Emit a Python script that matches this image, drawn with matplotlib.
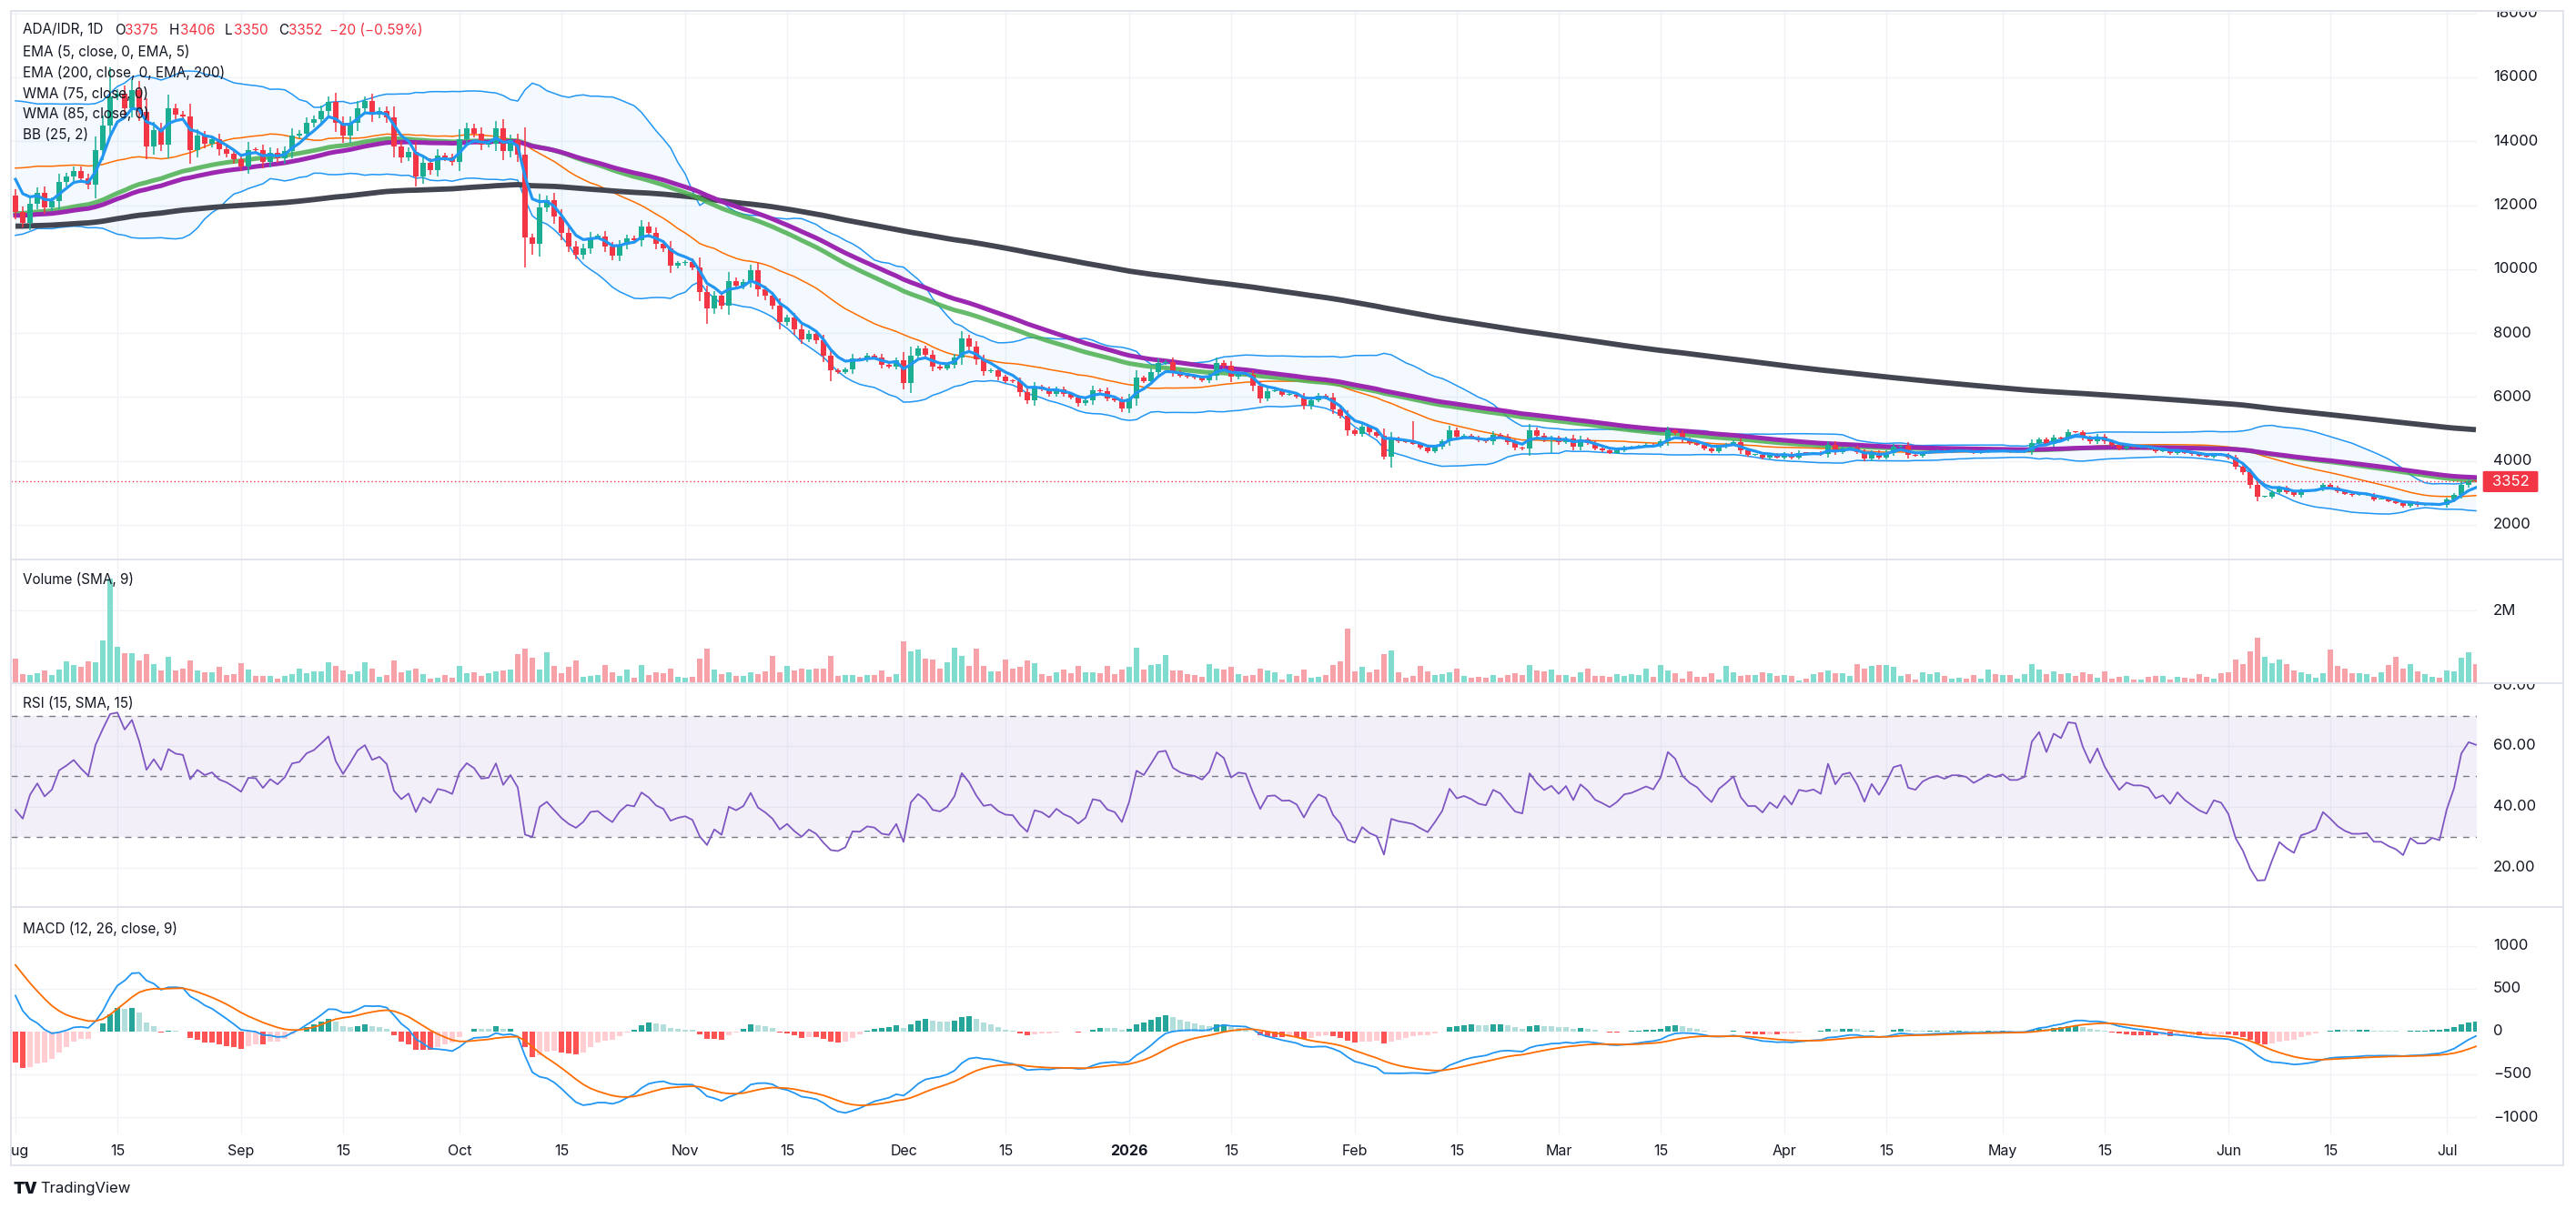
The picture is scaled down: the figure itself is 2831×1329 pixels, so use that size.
import numpy as np
import pandas as pd
import matplotlib
matplotlib.use("Agg")
import matplotlib.pyplot as plt
from matplotlib.patches import Rectangle, FancyBboxPatch

plt.rcParams["font.family"] = ["Inter", "DejaVu Sans"]

# ---------------- data: ADA/IDR daily ----------------
# rough closes for May 8 - Jul 31 2025 (not drawn, only warm up the indicators)
pre_close = [12200, 12900, 13050, 12750, 12800, 12650, 12750, 12450, 12350, 12250,
             12300, 12200, 12400, 12600, 12700, 12750, 12450, 12550, 12300, 12000,
             11750, 11500, 11300, 11000,
             10950, 10900, 10800, 10700, 10300, 10550, 10700, 10900, 11100, 11350,
             11400, 10900, 10350, 10500, 10400, 10450, 9900, 9650, 9300, 8800,
             8200, 7500, 7700, 7950, 8200, 8450, 8700, 8950, 9200, 9400,
             9650, 9900, 10150, 10350, 10600, 10800, 11050, 11250, 11500, 11700,
             11950, 12150, 12350, 12600, 12800, 13000, 13200, 13400, 13600, 13750,
             13950, 14100, 14250, 14400, 14500, 14600, 14650, 14400, 13800, 13050,
             12290]

aug_close = [11793, 11460, 12058, 12381, 11935, 12125, 12723, 12885, 13075, 12837,
             12628, 13730, 14499, 15401, 15500, 15022, 15591, 14927, 13835, 14357,
             13901, 15022, 14832, 14784, 13711, 14167, 13929, 14053, 13739, 13616, 13426]
sep_close = [13217, 13730, 13711, 13341, 13644, 13455, 13692, 14186, 14243, 14566,
             14689, 14946, 15230, 14566, 14167, 14566, 15041, 15259, 14832, 14946,
             14737, 13835, 13502, 13673, 12885, 13331, 13103, 13549, 13483, 13360]
oct_close = [14072, 14404, 14243, 13901, 13929, 14404, 13692, 14024, 13578, 10986,
             10796, 11935, 12154, 11650, 11128, 10720, 10444, 10653, 11004, 11033,
             10701, 10417, 10750, 10957, 10900, 11336, 11130, 10796, 10650, 10104, 10180]
nov_close = [10220, 10066, 9280, 8777, 9156, 8870, 9630, 9470, 9590, 9971,
             9374, 9156, 8870, 8331, 8473, 8113, 7810, 7980, 7762, 7288,
             6843, 6786, 6862, 7194, 7180, 7288, 7241, 7004, 6957, 7146]
dec_close = [6435, 7288, 7506, 7317, 6957, 6900, 7004, 7241, 7829, 7573,
             7165, 6814, 6843, 6625, 6502, 6483, 6151, 5895, 6312, 6246,
             6085, 6246, 6085, 5990, 5800, 5895, 6217, 6180, 5961, 5895, 5630]
jan_close = [5961, 6597, 6502, 6767, 7070, 7100, 6767, 6672, 6625, 6597,
             6530, 6672, 7070, 6976, 6625, 6720, 6700, 6340, 5960, 6180,
             6190, 6076, 6080, 6000, 5718, 5907, 6047, 5982, 5624, 5416, 4945]
feb_close = [4850, 5058, 4888, 4794, 4134, 4700, 4624, 4586, 4539, 4417,
             4304, 4445, 4605, 4963, 4756, 4794, 4728, 4634, 4605, 4822,
             4756, 4586, 4417, 4379, 4964, 4794, 4662, 4728]
mar_close = [4586, 4700, 4445, 4681, 4568, 4398, 4332, 4257, 4322, 4417,
             4436, 4473, 4511, 4473, 4605, 4945, 4870, 4662, 4568, 4511,
             4398, 4304, 4445, 4511, 4586, 4322, 4190, 4190, 4096, 4190, 4115]
apr_close = [4228, 4115, 4257, 4240, 4257, 4210, 4511, 4285, 4398, 4417,
             4285, 4068, 4257, 4115, 4257, 4445, 4473, 4190, 4162, 4257,
             4300, 4320, 4290, 4325, 4325, 4310, 4258, 4290, 4325, 4305]
may_close = [4325, 4286, 4286, 4305, 4572, 4667, 4543, 4734, 4705, 4896,
             4890, 4734, 4610, 4762, 4610, 4496, 4382, 4448, 4420, 4420,
             4400, 4305, 4325, 4248, 4325, 4258, 4210, 4163, 4134, 4210, 4191]
jun_close = [4096, 3829, 3639, 3258, 2877, 2880, 3020, 3163, 3030, 2925,
             3068, 3087, 3115, 3258, 3163, 3049, 2973, 2925, 2925, 2930,
             2800, 2800, 2735, 2687, 2592, 2687, 2611, 2611, 2640, 2611]
jul_close = [2782, 2925, 3239, 3372, 3352]

close = (aug_close + sep_close + oct_close + nov_close + dec_close + jan_close
         + feb_close + mar_close + apr_close + may_close + jun_close + jul_close)

first_open = 12286
last_open, last_high, last_low = 3375, 3406, 3350
ema200_start = 11340   # EMA 200 value at the left edge of the chart

# wicks that stand out on the chart
long_highs = {"2025-08-14": 16300, "2025-08-17": 15950, "2025-12-09": 8050,
              "2026-02-09": 5250}
long_lows = {"2025-10-10": 10050, "2025-10-11": 10450, "2025-11-04": 8300,
             "2025-11-21": 6500, "2025-12-01": 6250, "2026-02-05": 4050,
             "2026-02-06": 3800, "2026-02-28": 4250}

# volume in thousands
volume_k = (
    [670, 258, 232, 283, 361, 232, 386, 592, 489, 438, 592, 567, 1185, 2876, 1004, 824,
     824, 618, 798, 515, 361, 721, 361, 412, 618, 361, 309, 309, 438, 232, 258]
    + [541, 386, 206, 206, 206, 129, 206, 258, 412, 283, 318, 335, 567, 464, 361, 258,
       335, 567, 412, 180, 232, 618, 309, 361, 412, 258, 129, 155, 232, 155]
    + [464, 283, 309, 206, 283, 335, 361, 386, 798, 953, 695, 386, 850, 464, 283, 438,
       618, 180, 206, 232, 489, 309, 206, 386, 155, 489, 232, 309, 283, 412, 180]
    + [155, 180, 670, 953, 386, 258, 309, 206, 206, 309, 258, 335, 747, 309, 464, 361,
       412, 386, 400, 412, 755, 197, 232, 232, 180, 232, 232, 361, 180, 258]
    + [1159, 876, 927, 670, 644, 412, 567, 979, 747, 464, 953, 464, 335, 335, 644, 412,
       438, 618, 541, 258, 206, 309, 386, 283, 464, 309, 309, 283, 464, 250, 386]
    + [438, 979, 386, 489, 515, 773, 361, 361, 258, 232, 180, 515, 412, 386, 438, 258,
       206, 232, 412, 361, 309, 103, 258, 206, 386, 155, 180, 232, 489, 592, 1494]
    + [335, 438, 309, 386, 798, 901, 309, 155, 206, 464, 335, 232, 258, 309, 412, 206,
       155, 180, 155, 232, 155, 232, 283, 232, 489, 361, 335, 386]
    + [230, 232, 180, 309, 412, 206, 206, 180, 258, 206, 258, 232, 412, 180, 489, 343,
       283, 129, 335, 180, 180, 283, 103, 464, 309, 206, 232, 232, 309, 283, 206]
    + [232, 206, 77, 129, 258, 309, 361, 283, 283, 206, 515, 412, 464, 489, 489, 438,
       206, 258, 103, 309, 260, 309, 206, 129, 155, 129, 232, 129, 386, 258]
    + [232, 232, 129, 258, 515, 386, 258, 335, 258, 283, 206, 309, 258, 155, 335, 129,
       180, 206, 103, 103, 180, 206, 206, 103, 180, 155, 129, 258, 180, 129, 283]
    + [300, 644, 515, 876, 1262, 721, 541, 644, 515, 361, 309, 258, 155, 283, 927, 464,
       412, 283, 283, 258, 180, 309, 489, 721, 412, 515, 335, 258, 180, 155]
    + [361, 335, 695, 850, 515]
)

# ---------------- indicators ----------------
dates = pd.date_range("2025-08-01", periods=len(close), freq="D")
n_pre = len(pre_close)
full = pd.Series(pre_close + close, dtype=float)


def wma(s, n):
    w = np.arange(1, n + 1)
    return s.rolling(n).apply(lambda v: np.dot(v, w) / w.sum(), raw=True)


def visible(s):
    return s.iloc[n_pre:].to_numpy()


ema5 = visible(full.ewm(span=5, adjust=False).mean())
wma75 = visible(wma(full, 75))
wma85 = visible(wma(full, 85))
bb_mid = full.rolling(25).mean()
bb_dev = full.rolling(25).std(ddof=0)
bb_up = visible(bb_mid + 2 * bb_dev)
bb_lo = visible(bb_mid - 2 * bb_dev)
bb_mid = visible(bb_mid)
ema200 = pd.Series([ema200_start] + close, dtype=float).ewm(span=200, adjust=False).mean().to_numpy()[1:]

delta = full.diff()
gain = delta.clip(lower=0).ewm(alpha=1 / 15, adjust=False).mean()
loss = (-delta.clip(upper=0)).ewm(alpha=1 / 15, adjust=False).mean()
rsi = visible(100 - 100 / (1 + gain / loss))

macd_full = full.ewm(span=12, adjust=False).mean() - full.ewm(span=26, adjust=False).mean()
signal_full = macd_full.ewm(span=9, adjust=False).mean()
hist_full = macd_full - signal_full
macd = visible(macd_full)
signal = visible(signal_full)
hist = visible(hist_full)
hist_prev = visible(hist_full.shift(1))

# ---------------- candles ----------------
x = np.arange(len(close))
c = np.array(close, dtype=float)
o = np.array([first_open] + close[:-1], dtype=float)
o[-1] = last_open
body_hi = np.maximum(o, c)
body_lo = np.minimum(o, c)
wick = 0.006 * c + 0.3 * np.abs(c - o)
hi = body_hi + wick
lo = body_lo - wick
hi[-1], lo[-1] = last_high, last_low
for d, v in long_highs.items():
    hi[dates.get_loc(pd.Timestamp(d))] = v
for d, v in long_lows.items():
    lo[dates.get_loc(pd.Timestamp(d))] = v
up = c >= o

UP, DOWN = "#1cae93", "#f23645"
VOL_UP, VOL_DOWN = "#7fdccf", "#f7a1a9"
TXT = "#131722"
GRID = "#f0f2f7"
BORDER = "#e0e3eb"

# ---------------- layout (pixels) ----------------
W, H = 2831, 1329
PL, PR, AR = 12, 2722, 2817
fig = plt.figure(figsize=(W / 100, H / 100), dpi=100)
fig.patch.set_facecolor("white")


def add_axes(x0, y0, x1, y1):
    return fig.add_axes([x0 / W, 1 - y1 / H, (x1 - x0) / W, (y1 - y0) / H])


xlim = ((PL - 17) / 8, (PR - 17) / 8)
tick_days = [i for i, d in enumerate(dates) if d.day in (1, 15)]

panes = {
    "price": (12, 615, (917, 18077)),
    "vol": (615, 751, (0, 3.4e6)),
    "rsi": (751, 997, (7.0, 80.66)),
    "macd": (997, 1247, (-1202, 1457)),
}
axs = {}
for name, (y0, y1, ylim) in panes.items():
    ax = add_axes(PL, y0, PR, y1)
    ax.set_xlim(*xlim)
    ax.set_ylim(*ylim)
    ax.set_xticks([])
    ax.set_yticks([])
    for s in ax.spines.values():
        s.set_visible(False)
    for d in tick_days:
        ax.axvline(d, color=GRID, lw=1, zorder=0)
    axs[name] = ax

# price pane
ax = axs["price"]
for v in range(2000, 18001, 2000):
    ax.axhline(v, color=GRID, lw=1, zorder=0)
ax.fill_between(x, bb_lo, bb_up, color="#2196f3", alpha=0.05, lw=0, zorder=1)
ax.plot(x, bb_up, color="#2196f3", lw=1.1, zorder=2)
ax.plot(x, bb_lo, color="#2196f3", lw=1.1, zorder=2)
ax.plot(x, bb_mid, color="#ff6d00", lw=1.1, zorder=2)
ax.plot(x, ema200, color="#434651", lw=4.2, zorder=3, solid_capstyle="butt")
ax.plot(x, wma75, color="#4caf50", lw=3.6, alpha=0.85, zorder=3)
ax.plot(x, wma85, color="#9c27b0", lw=3.6, zorder=3)
cols = np.where(up, UP, DOWN)
ax.vlines(x, lo, hi, colors=cols, lw=1.1, zorder=4)
ax.bar(x, np.maximum(body_hi - body_lo, 30), bottom=body_lo, width=0.68, color=cols,
       lw=0, zorder=5)
ax.plot(x, ema5, color="#2196f3", lw=2.3, zorder=6)
ax.axhline(c[-1], color=DOWN, lw=1, ls=(0, (1, 2)), zorder=6)

# volume pane
ax = axs["vol"]
ax.axhline(2e6, color=GRID, lw=1, zorder=0)
ax.bar(x, np.array(volume_k) * 1000, width=0.78, color=np.where(up, VOL_UP, VOL_DOWN), lw=0)

# rsi pane
ax = axs["rsi"]
for v in (20, 40, 60, 80):
    ax.axhline(v, color=GRID, lw=1, zorder=0)
ax.axhspan(30, 70, color="#7e57c2", alpha=0.09, lw=0, zorder=1)
for v in (70, 50, 30):
    ax.axhline(v, color="#787b86", lw=1, ls=(0, (5, 5)), zorder=2)
ax.plot(x, rsi, color="#7e57c2", lw=1.3, zorder=3)

# macd pane
ax = axs["macd"]
for v in (-1000, -500, 500, 1000):
    ax.axhline(v, color=GRID, lw=1, zorder=0)
hcol = np.where(hist >= 0,
                np.where(hist > hist_prev, "#26a69a", "#b2dfdb"),
                np.where(hist > hist_prev, "#ffcdd2", "#ff5252"))
ax.bar(x, hist, width=0.75, color=hcol, lw=0, zorder=2)
ax.plot(x, macd, color="#2196f3", lw=1.3, zorder=3)
ax.plot(x, signal, color="#ff6d00", lw=1.3, zorder=3)


# ---------------- right price scales ----------------
def fmt_num(v, nd=0):
    return f"{v:.{nd}f}".replace("-", "\u2212")


def scale(y0, y1, ylim, ticks, fmt):
    la = add_axes(PR, y0, AR, y1)
    la.set_xlim(0, 1)
    la.set_ylim(*ylim)
    la.axis("off")
    for t in ticks:
        la.text(0.19, t, fmt(t), fontsize=12, color=TXT, va="center", ha="left", clip_on=True)
    return la


la = scale(12, 615, panes["price"][2], range(2000, 18001, 2000), fmt_num)
la.add_patch(FancyBboxPatch((0.07, c[-1] - 330), 0.64, 660, boxstyle="round,pad=0,rounding_size=0.03",
                            color=DOWN, lw=0, mutation_aspect=1000))
la.text(0.39, c[-1], fmt_num(c[-1]), fontsize=12, color="white", va="center", ha="center")
scale(615, 751, panes["vol"][2], [2e6], lambda v: "2M")
scale(751, 997, panes["rsi"][2], [20, 40, 60, 80], lambda v: f"{v:.2f}")
scale(997, 1247, panes["macd"][2], [-1000, -500, 0, 500, 1000], fmt_num)

# ---------------- time axis ----------------
ta = add_axes(PL, 1247, AR, 1281)
ta.set_xlim(xlim[0], xlim[0] + (AR - PL) / 8)
ta.set_ylim(0, 1)
ta.axis("off")
for d in tick_days:
    dt = dates[d]
    if dt.day == 15:
        lab, wt = "15", "normal"
    elif dt.month == 1:
        lab, wt = str(dt.year), "bold"
    else:
        lab, wt = dt.strftime("%b"), "normal"
    ta.text(d, 0.47, lab, fontsize=11.5, color=TXT, fontweight=wt, ha="center", va="center",
            clip_on=True)

# ---------------- frame ----------------
for yy in (615, 751, 997):
    fig.add_artist(plt.Line2D([PL / W, AR / W], [1 - yy / H] * 2, color=BORDER, lw=1.4))
fig.add_artist(Rectangle((PL / W, 1 - 1281 / H), (AR - PL) / W, (1281 - 12) / H,
                         fill=False, ec=BORDER, lw=1.4))


# ---------------- legends ----------------
def label(px, py, s, col=TXT, size=11):
    fig.text(px / W, 1 - py / H, s, color=col, fontsize=size, va="center", ha="left")


chg = c[-1] - c[-2]
pct = chg / c[-2] * 100
label(25, 33, "ADA/IDR, 1D")
for px, s, col in [(126, "O", TXT), (137, fmt_num(o[-1]), DOWN),
                   (186, "H", TXT), (198, fmt_num(hi[-1]), DOWN),
                   (247, "L", TXT), (257, fmt_num(lo[-1]), DOWN),
                   (306, "C", TXT), (317, fmt_num(c[-1]), DOWN),
                   (362, f"{fmt_num(chg)} ({fmt_num(pct, 2)}%)", DOWN)]:
    label(px, 33, s, col)
for i, lab in enumerate(["EMA (5, close, 0, EMA, 5)", "EMA (200, close, 0, EMA, 200)",
                         "WMA (75, close, 0)", "WMA (85, close, 0)", "BB (25, 2)"]):
    label(25, 57 + i * 22.8, lab)
label(25, 637, "Volume (SMA, 9)")
label(25, 773, "RSI (15, SMA, 15)")
label(25, 1021, "MACD (12, 26, close, 9)")

# TradingView mark
fig.text(14 / W, 1 - 1307 / H, "TV", fontsize=13, fontweight="black", color=TXT, va="center")
fig.text(44 / W, 1 - 1307 / H, "TradingView", fontsize=12, color=TXT, va="center")

fig.savefig("out.png", dpi=100, facecolor="white")
